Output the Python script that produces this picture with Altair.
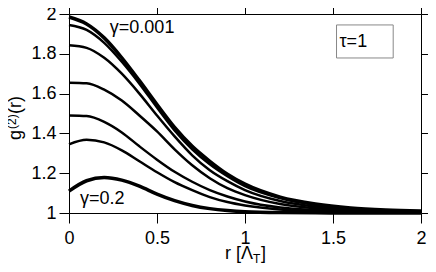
import altair as alt
import pandas as pd

# radial distance r in units of Lambda_T
r = [0.0, 0.1, 0.2, 0.3, 0.4, 0.5, 0.6, 0.7, 0.8, 0.9, 1.0, 1.2, 1.4, 1.6, 1.8, 2.0]

# g2(r) curves, top (gamma=0.001) to bottom (gamma=0.2)
c1 = [1.985, 1.950, 1.880, 1.780, 1.665, 1.545, 1.430, 1.335, 1.260, 1.195, 1.145, 1.080, 1.045, 1.025, 1.015, 1.010]
c2 = [1.945, 1.920, 1.855, 1.760, 1.650, 1.530, 1.415, 1.320, 1.245, 1.185, 1.135, 1.075, 1.040, 1.022, 1.013, 1.008]
c3 = [1.843, 1.830, 1.780, 1.700, 1.600, 1.490, 1.385, 1.290, 1.215, 1.160, 1.115, 1.060, 1.032, 1.018, 1.010, 1.006]
c4 = [1.655, 1.652, 1.620, 1.565, 1.490, 1.410, 1.320, 1.240, 1.175, 1.125, 1.090, 1.045, 1.024, 1.013, 1.008, 1.005]
c5 = [1.490, 1.487, 1.458, 1.405, 1.335, 1.268, 1.207, 1.157, 1.115, 1.083, 1.058, 1.028, 1.015, 1.008, 1.005, 1.003]
c6 = [1.345, 1.368, 1.355, 1.315, 1.260, 1.205, 1.155, 1.115, 1.080, 1.055, 1.038, 1.018, 1.009, 1.005, 1.003, 1.002]
c7 = [1.110, 1.162, 1.178, 1.165, 1.135, 1.095, 1.062, 1.038, 1.022, 1.012, 1.006, 1.002, 1.001, 1.000, 1.000, 1.000]

curves = [c1, c2, c3, c4, c5, c6, c7]
widths = [3.5, 2.5, 2.5, 2.5, 2.5, 2.5, 3.5]

x_ticks = [0, 0.5, 1, 1.5, 2]
y_ticks = [1, 1.2, 1.4, 1.6, 1.8, 2]

rows = []
for i, (vals, w) in enumerate(zip(curves, widths)):
    for xv, yv in zip(r, vals):
        rows.append({"r": xv, "g": yv, "curve": f"c{i+1}", "w": w})
df = pd.DataFrame(rows)

labels = pd.DataFrame({
    "x": [0.232, 0.062, 1.537],
    "y": [1.905, 1.045, 1.834],
    "t": ["γ=0.001", "γ=0.2", "τ=1"],
})
box = pd.DataFrame({"x": [1.52], "x2": [1.842], "y": [1.945], "y2": [1.779]})

FONT = "Liberation Sans"
xs = alt.Scale(domain=[0, 2], nice=False, zero=False)
ys = alt.Scale(domain=[1, 2], nice=False, zero=False)

lines = alt.Chart(df).mark_line(interpolate="monotone", color="black").encode(
    x=alt.X("r:Q", scale=xs,
            axis=alt.Axis(values=x_ticks, format="~g", title=None, orient="bottom",
                          labelPadding=6, labelFlush=False)),
    y=alt.Y("g:Q", scale=ys,
            axis=alt.Axis(values=y_ticks, format="~g", title=None, orient="left",
                          labelPadding=3, labelFlush=False)),
    detail="curve:N",
    strokeWidth=alt.StrokeWidth("w:Q", scale=None, legend=None),
)

frame = alt.Chart(df).mark_line(opacity=0).encode(
    x=alt.X("r:Q", scale=xs,
            axis=alt.Axis(values=x_ticks, labels=False, title=None, orient="top")),
    y=alt.Y("g:Q", scale=ys,
            axis=alt.Axis(values=y_ticks, labels=False, title=None, orient="right")),
    detail="curve:N",
)

boxmark = alt.Chart(box).mark_rect(fill="white", stroke="#888888", strokeWidth=1).encode(
    x=alt.X("x:Q", scale=xs, axis=None), x2="x2:Q",
    y=alt.Y("y:Q", scale=ys, axis=None), y2="y2:Q",
)

texts = alt.Chart(labels).mark_text(
    align="left", baseline="alphabetic", font=FONT, fontSize=18, color="black"
).encode(
    x=alt.X("x:Q", scale=xs, axis=None),
    y=alt.Y("y:Q", scale=ys, axis=None),
    text="t:N",
)


def piece(txt, x, y, size, angle=0):
    return alt.Chart(pd.DataFrame({"t": [txt]})).mark_text(
        align="left", baseline="alphabetic", font=FONT, fontSize=size,
        color="black", angle=angle,
    ).encode(x=alt.value(x), y=alt.value(y), text="t:N")


# x-axis title r [Λ_T]
xt1 = piece("r [Λ", 156, 245, 18)
xt2 = piece("T", 184, 249, 12)
xt3 = piece("]", 192, 245, 18)
# y-axis title g^(2)(r)
yt1 = piece("g", -48, 126, 18, 270)
yt2 = piece("(2)", -53, 115, 12, 270)
yt3 = piece("(r)", -48, 100, 18, 270)

chart = alt.layer(lines, frame, boxmark, texts, xt1, xt2, xt3, yt1, yt2, yt3).resolve_axis(
    x="independent", y="independent"
).properties(
    width=352, height=199,
    autosize=alt.AutoSizeParams(type="none"),
    padding={"left": 61, "top": 6, "right": 7, "bottom": 51},
).configure_view(stroke=None).configure_axis(
    grid=False, domainColor="black", domainWidth=1, tickColor="black", tickWidth=1,
    tickSize=10, labelFont=FONT, labelFontSize=18, labelColor="black",
)

chart.save("out.html", embed_options={"renderer": "svg", "actions": False})
